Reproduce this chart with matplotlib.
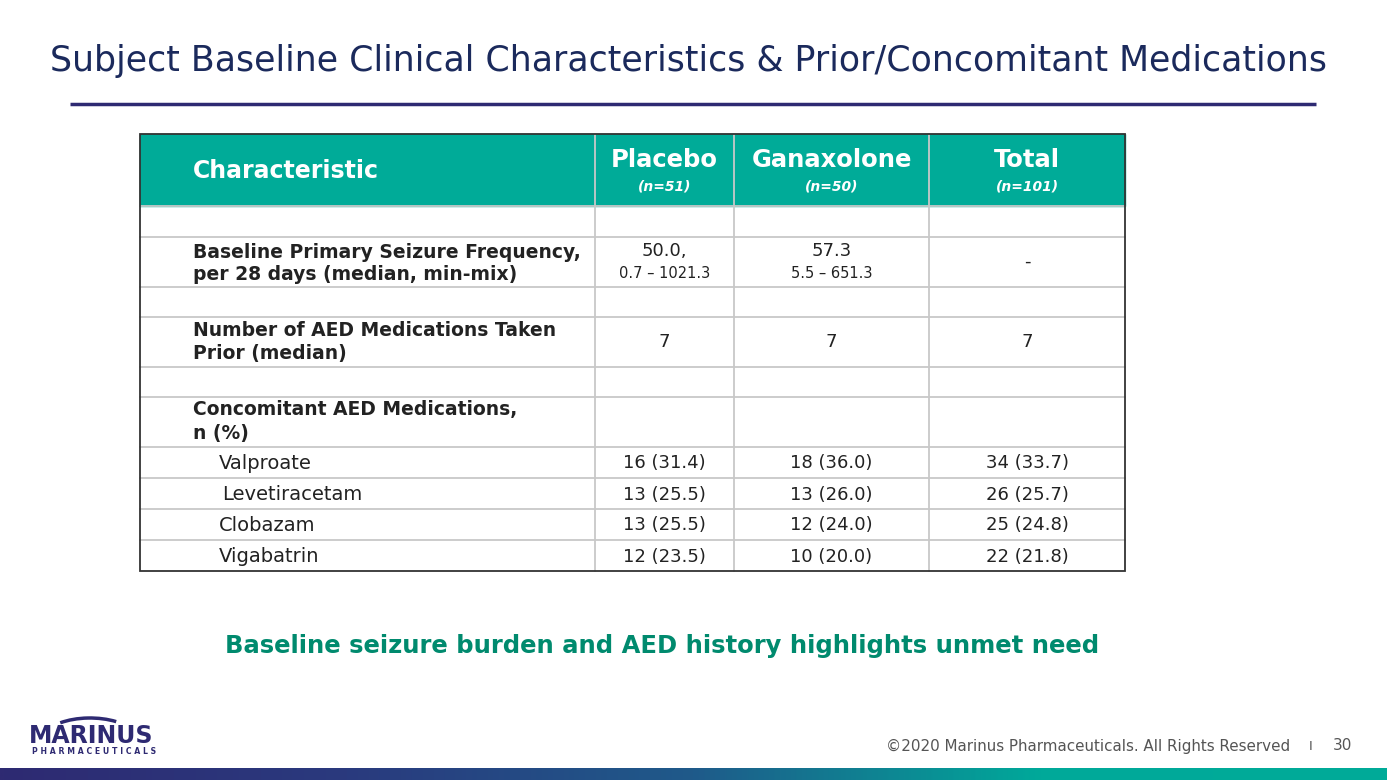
import matplotlib.pyplot as plt
import numpy as np
from matplotlib.patches import Rectangle, Arc
from matplotlib.colors import LinearSegmentedColormap

# Данные таблицы
groups = ["Placebo", "Ganaxolone", "Total"]
group_n = ["(n=51)", "(n=50)", "(n=101)"]

freq_label = ["Baseline Primary Seizure Frequency,", "per 28 days (median, min-mix)"]
freq_median = ["50.0,", "57.3", "-"]
freq_range = ["0.7 – 1021.3", "5.5 – 651.3", ""]

aed_label = ["Number of AED Medications Taken", "Prior (median)"]
aed_median = ["7", "7", "7"]

conc_label = ["Concomitant AED Medications,", "n (%)"]
drugs = ["Valproate", "Levetiracetam", "Clobazam", "Vigabatrin"]
placebo = ["16 (31.4)", "13 (25.5)", "13 (25.5)", "12 (23.5)"]
ganaxolone = ["18 (36.0)", "13 (26.0)", "12 (24.0)", "10 (20.0)"]
total = ["34 (33.7)", "26 (25.7)", "25 (24.8)", "22 (21.8)"]

plt.rcParams["font.family"] = ["DejaVu Sans"]

W, H = 1387, 780
fig = plt.figure(figsize=(W / 100, H / 100), dpi=100)
ax = fig.add_axes([0, 0, 1, 1])
ax.set_xlim(0, W)
ax.set_ylim(H, 0)
ax.axis("off")

navy = "#1b2a5c"
purple = "#2e2a72"
teal = "#00ab98"
dark = "#222222"
grid = "#c8c8c8"

# Заголовок
ax.text(50, 61, "Subject Baseline Clinical Characteristics & Prior/Concomitant Medications",
        fontsize=25, color=navy, va="center", ha="left")
ax.plot([70, 1316], [104, 104], color=purple, lw=2.5, solid_capstyle="butt")

# Геометрия таблицы
x0, x1 = 140, 1125
cols = [x0, 595, 734, 929, x1]
rows = [134, 206, 237, 287, 317, 367, 397, 447, 478, 509, 540, 571]
centers = [(cols[i] + cols[i + 1]) / 2 for i in range(1, 4)]

ax.add_patch(Rectangle((x0, rows[0]), x1 - x0, rows[1] - rows[0], color=teal, zorder=1))
for y in rows[1:-1]:
    ax.plot([x0, x1], [y, y], color=grid, lw=1.3, zorder=2)
for x in cols[1:-1]:
    ax.plot([x, x], [rows[0], rows[-1]], color=grid, lw=1.3, zorder=2)
ax.add_patch(Rectangle((x0, rows[0]), x1 - x0, rows[-1] - rows[0], fill=False,
                       edgecolor="#333333", lw=1.3, zorder=3))

# Шапка
ax.text(193, 171, "Characteristic", color="white", fontsize=17, fontweight="bold", va="center")
for c, g, n in zip(centers, groups, group_n):
    ax.text(c, 160, g, color="white", fontsize=17.5, fontweight="bold", ha="center", va="center")
    ax.text(c, 186, n, color="white", fontsize=10, fontweight="bold", style="italic",
            ha="center", va="center")

# Частота приступов
ax.text(193, 252, freq_label[0], color=dark, fontsize=13.5, fontweight="bold", va="center")
ax.text(193, 274, freq_label[1], color=dark, fontsize=13.5, fontweight="bold", va="center")
for c, m, r in zip(centers, freq_median, freq_range):
    if r:
        ax.text(c, 251, m, color=dark, fontsize=13, ha="center", va="center")
        ax.text(c, 274, r, color=dark, fontsize=10.5, ha="center", va="center")
    else:
        ax.text(c, 262, m, color=dark, fontsize=13, ha="center", va="center")

# Число ПЭП
ax.text(193, 330, aed_label[0], color=dark, fontsize=13.5, fontweight="bold", va="center")
ax.text(193, 354, aed_label[1], color=dark, fontsize=13.5, fontweight="bold", va="center")
for c, m in zip(centers, aed_median):
    ax.text(c, 342, m, color=dark, fontsize=13, ha="center", va="center")

# Сопутствующие ПЭП
ax.text(193, 410, conc_label[0], color=dark, fontsize=13.5, fontweight="bold", va="center")
ax.text(193, 434, conc_label[1], color=dark, fontsize=13.5, fontweight="bold", va="center")
for i, d in enumerate(drugs):
    yc = (rows[7 + i] + rows[8 + i]) / 2 + 1
    ax.text(222 if d == "Levetiracetam" else 219, yc, d, color=dark, fontsize=14, va="center")
    for c, v in zip(centers, [placebo[i], ganaxolone[i], total[i]]):
        ax.text(c, yc, v, color=dark, fontsize=13, ha="center", va="center")

# Вывод
ax.text(662, 646, "Baseline seizure burden and AED history highlights unmet need",
        color="#008a6e", fontsize=17.5, fontweight="bold", ha="center", va="center")

# Подвал
ax.text(1290, 746, "©2020 Marinus Pharmaceuticals. All Rights Reserved", color="#555555",
        fontsize=10.9, ha="right", va="center")
ax.text(1311, 746, "I", color="#555555", fontsize=9.5, ha="center", va="center")
ax.text(1343, 745, "30", color="#555555", fontsize=11, ha="center", va="center")

# Логотип
ax.text(91, 736, "MARINUS", color=purple, fontsize=17, fontweight="bold", ha="center", va="center")
ax.text(94, 751, "P H A R M A C E U T I C A L S", color=purple, fontsize=5.6,
        fontweight="bold", ha="center", va="center")
ax.add_patch(Arc((90, 740), 95, 44, theta1=210, theta2=325, color=purple, lw=2.5))

# Нижняя полоса с градиентом
cmap = LinearSegmentedColormap.from_list("bar", ["#2e2a72", "#2a3a7e", "#1f5a8a", "#00a99a", "#00ab98"])
grad = np.linspace(0, 1, 512).reshape(1, -1)
ax.imshow(grad, cmap=cmap, extent=[0, W, 780, 768], aspect="auto", zorder=0)
ax.set_xlim(0, W)
ax.set_ylim(H, 0)

fig.savefig("out.png", dpi=100)
